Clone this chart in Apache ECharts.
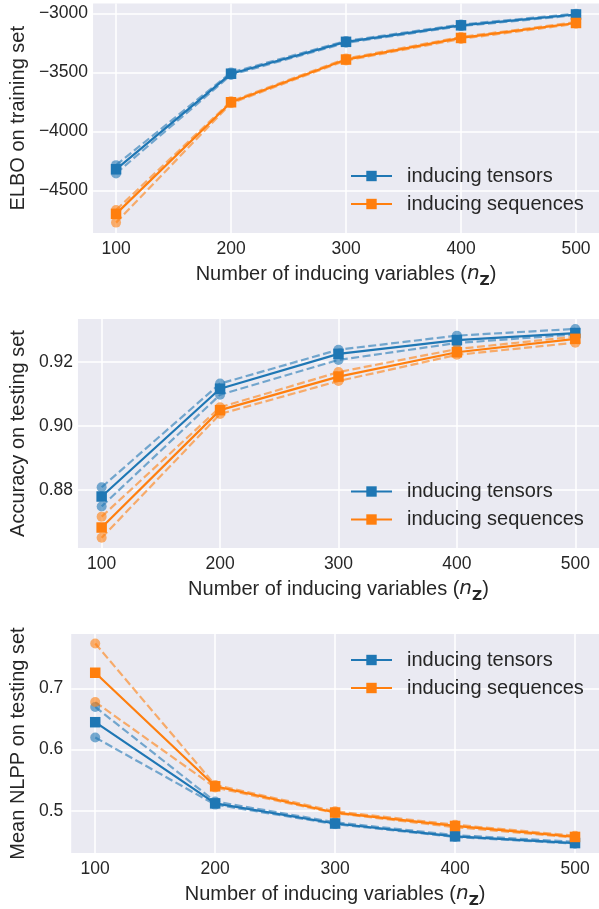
<!DOCTYPE html>
<html><head><meta charset="utf-8">
<script src="https://cdn.jsdelivr.net/npm/echarts@6/dist/echarts.min.js"></script>
<style>html,body{margin:0;padding:0;background:#fff}#c{width:599px;height:909px}</style>
</head><body><div id="c"></div>
<script>
// ---------- data ----------
const nInducing = [100, 200, 300, 400, 500];
const xTicks = [100, 200, 300, 400, 500];
const nameTensors = 'inducing tensors';
const nameSequences = 'inducing sequences';

// Panel 1: ELBO on training set
const elboTensorsMean  = [-4320, -3510, -3240, -3100, -3008];
const elboTensorsUpper = [-4285, -3500, -3232, -3093, -3002];
const elboTensorsLower = [-4355, -3520, -3248, -3107, -3014];
const elboSeqMean  = [-4698, -3752, -3390, -3207, -3080];
const elboSeqUpper = [-4665, -3744, -3382, -3199, -3073];
const elboSeqLower = [-4772, -3760, -3398, -3215, -3087];
const elboTicks = [-4500, -4000, -3500, -3000];

// Panel 2: Accuracy on testing set
const accTensorsMean  = [0.8779, 0.9116, 0.9225, 0.9268, 0.9290];
const accTensorsUpper = [0.8808, 0.9132, 0.9238, 0.9282, 0.9303];
const accTensorsLower = [0.8748, 0.9097, 0.9206, 0.9259, 0.9286];
const accSeqMean  = [0.8682, 0.9049, 0.9154, 0.9230, 0.9272];
const accSeqUpper = [0.8716, 0.9058, 0.9168, 0.9240, 0.9279];
const accSeqLower = [0.8650, 0.9037, 0.9140, 0.9222, 0.9260];
const accTicks = [0.88, 0.90, 0.92];

// Panel 3: Mean NLPP on testing set
const nlppTensorsMean  = [0.645, 0.512, 0.479, 0.458, 0.447];
const nlppTensorsUpper = [0.670, 0.515, 0.481, 0.460, 0.449];
const nlppTensorsLower = [0.620, 0.510, 0.478, 0.457, 0.446];
const nlppSeqMean  = [0.726, 0.540, 0.497, 0.475, 0.457];
const nlppSeqUpper = [0.774, 0.542, 0.499, 0.477, 0.459];
const nlppSeqLower = [0.678, 0.538, 0.496, 0.473, 0.456];
const nlppTicks = [0.5, 0.6, 0.7];

// ---------- style ----------
const BLUE = '#1f77b4', ORANGE = '#ff7f0e';
const TXT = '#262626';
const FONT = '"Liberation Sans", Arial, sans-serif';

const panels = [
  { ylabel: 'ELBO on training set', grid: {left: 91, top: 3.5, width: 513, height: 229.5},
    ymin: -4860, ymax: -2915, yticks: elboTicks, fmt: v => String(v).replace('-', '\u2212'),
    nameGap: 59, labelMargin: 5, legendTop: 161,
    t: [elboTensorsMean, elboTensorsUpper, elboTensorsLower], s: [elboSeqMean, elboSeqUpper, elboSeqLower] },
  { ylabel: 'Accuracy on testing set', grid: {left: 76, top: 319, width: 528, height: 229},
    ymin: 0.8618, ymax: 0.9334, yticks: accTicks, fmt: v => v.toFixed(2),
    nameGap: 43, labelMargin: 5, legendTop: 476.5,
    t: [accTensorsMean, accTensorsUpper, accTensorsLower], s: [accSeqMean, accSeqUpper, accSeqLower] },
  { ylabel: 'Mean NLPP on testing set', grid: {left: 66, top: 634, width: 538, height: 228},
    ymin: 0.4307, ymax: 0.7895, yticks: nlppTicks, fmt: v => v.toFixed(1),
    nameGap: 33, labelMargin: 8, legendTop: 645,
    t: [nlppTensorsMean, nlppTensorsUpper, nlppTensorsLower], s: [nlppSeqMean, nlppSeqUpper, nlppSeqLower] },
];

const pairs = arr => nInducing.map((x, i) => [x, arr[i]]);

const option = {
  animation: false,
  backgroundColor: '#ffffff',
  textStyle: { fontFamily: FONT, color: TXT },
  grid: [], xAxis: [], yAxis: [], series: [], legend: []
};

panels.forEach((p, k) => {
  option.grid.push(Object.assign({ show: true, backgroundColor: '#EAEAF2', borderWidth: 0, containLabel: false }, p.grid));
  option.xAxis.push({
    type: 'value', gridIndex: k, min: 80, max: 520,
    axisLine: { show: false }, axisTick: { show: false, customValues: xTicks },
    splitLine: { show: true, lineStyle: { color: '#ffffff', width: 1.5 } },
    axisLabel: { customValues: xTicks, fontSize: 17.5, color: TXT, fontFamily: FONT, margin: 7 },
    name: 'Number of inducing variables ({n|n}{z|Z})',
    nameLocation: 'middle', nameGap: 29,
    nameTextStyle: {
      fontSize: 20, color: TXT, fontFamily: FONT, lineHeight: 24,
      rich: {
        n: { fontSize: 20, fontStyle: 'italic', fontFamily: '"DejaVu Sans"', color: TXT, lineHeight: 24 },
        z: { fontSize: 14, fontWeight: 'bold', fontFamily: '"DejaVu Sans"', color: TXT, lineHeight: 14, verticalAlign: 'top', padding: [12, 0, 0, 0] }
      }
    }
  });
  option.yAxis.push({
    type: 'value', gridIndex: k, min: p.ymin, max: p.ymax,
    axisLine: { show: false }, axisTick: { show: false, customValues: p.yticks },
    splitLine: { show: true, lineStyle: { color: '#ffffff', width: 1.5 } },
    axisLabel: { customValues: p.yticks, fontSize: 17.5, color: TXT, fontFamily: FONT, margin: p.labelMargin, formatter: p.fmt },
    name: p.ylabel, nameLocation: 'middle', nameGap: p.nameGap,
    nameTextStyle: { fontSize: 20, color: TXT, fontFamily: FONT }
  });
  const band = (name, color, arr) => ({
    name, type: 'line', xAxisIndex: k, yAxisIndex: k, data: pairs(arr),
    symbol: 'circle', symbolSize: 10, z: 2,
    lineStyle: { color, width: 2.2, type: [8, 3.5], opacity: 0.6 },
    itemStyle: { color, opacity: 0.6 }
  });
  const mean = (name, color, arr) => ({
    name, type: 'line', xAxisIndex: k, yAxisIndex: k, data: pairs(arr),
    symbol: 'rect', symbolSize: 10.5, z: 3,
    lineStyle: { color, width: 2.2 },
    itemStyle: { color }
  });
  option.series.push(
    band('tensors upper', BLUE, p.t[1]), band('tensors lower', BLUE, p.t[2]),
    band('sequences upper', ORANGE, p.s[1]), band('sequences lower', ORANGE, p.s[2]),
    mean(nameTensors, BLUE, p.t[0]), mean(nameSequences, ORANGE, p.s[0])
  );
  option.legend.push({
    data: [nameTensors, nameSequences], orient: 'vertical', left: 345, top: p.legendTop,
    itemWidth: 41, itemHeight: 13, itemGap: 8, selectedMode: false,
    textStyle: { fontSize: 20, color: TXT, fontFamily: FONT, padding: [0, 0, 0, 10] }
  });
});

const chart = echarts.init(document.getElementById('c'), null, { renderer: 'canvas' });
chart.setOption(option);
</script></body></html>
